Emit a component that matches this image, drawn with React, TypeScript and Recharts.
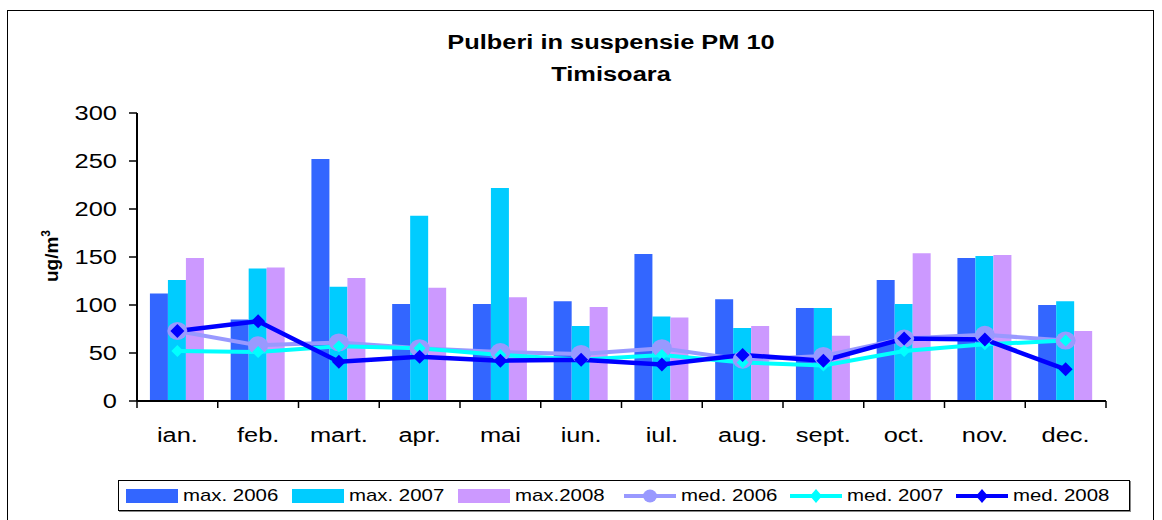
import React from "react";
import {
  ComposedChart,
  Bar,
  Line,
  XAxis,
  YAxis,
} from "recharts";

// PM10 monthly values for Timisoara (ug/m3)
const months = ["ian.", "feb.", "mart.", "apr.", "mai", "iun.", "iul.", "aug.", "sept.", "oct.", "nov.", "dec."];
const max2006 = [112, 85, 252, 101, 101, 104, 153, 106, 97, 126, 149, 100];
const max2007 = [126, 138, 119, 193, 222, 78, 88, 76, 97, 101, 151, 104];
const max2008 = [149, 139, 128, 118, 108, 98, 87, 78, 68, 154, 152, 73];
const med2006 = [73, 58, 61, 55, 51, 49, 55, 43, 47, 65, 69, 63];
const med2007 = [52, 51, 57, 55, 48, 43, 48, 40, 37, 52, 59, 63];
const med2008 = [73, 83, 41, 46, 42, 43, 38, 48, 42, 65, 64, 33];
const yTicks = [0, 50, 100, 150, 200, 250, 300];

const data = months.map((m, i) => ({
  m,
  max2006: max2006[i],
  max2007: max2007[i],
  max2008: max2008[i],
  med2006: med2006[i],
  med2007: med2007[i],
  med2008: med2008[i],
}));

const C_MAX06 = "#3366FF";
const C_MAX07 = "#00CCFF";
const C_MAX08 = "#CC99FF";
const C_MED06 = "#9999FF";
const C_MED07 = "#00FFFF";
const C_MED08 = "#0000FF";

const FONT = "'Liberation Sans', Arial, sans-serif";
const STRETCH = 1.27;

const CHART_W = 1144;
const CHART_H = 520;
const Y_W = 129;
const MARGIN = { top: 102, right: 46, bottom: 90, left: 0 };
const BAND = (CHART_W - Y_W - MARGIN.right) / months.length;

const MonthTick = (props: any) => {
  const { x, y, payload, index } = props;
  return (
    <g>
      <line x1={x - BAND / 2} y1={y} x2={x - BAND / 2} y2={y + 7} stroke="#000" strokeWidth={1.5} />
      {index === months.length - 1 && (
        <line x1={x + BAND / 2} y1={y} x2={x + BAND / 2} y2={y + 7} stroke="#000" strokeWidth={1.5} />
      )}
      <text
        transform={`translate(${x},${y + 34}) scale(${STRETCH},1)`}
        textAnchor="middle"
        dy="0.35em"
        fontSize={20}
        fontFamily={FONT}
        fill="#000"
      >
        {payload.value}
      </text>
    </g>
  );
};

const ValueTick = (props: any) => {
  const { x, y, payload } = props;
  return (
    <text
      transform={`translate(${x},${y}) scale(${STRETCH},1)`}
      textAnchor="end"
      dy="0.35em"
      fontSize={20}
      fontFamily={FONT}
      fill="#000"
    >
      {payload.value}
    </text>
  );
};

const circleDot = (props: any) => {
  const { cx, cy, key } = props;
  if (cx == null || cy == null) return <g key={key} />;
  return <ellipse key={key} cx={cx} cy={cy} rx={10} ry={9} fill={C_MED06} />;
};

const diamondDot = (color: string, s: number) => (props: any) => {
  const { cx, cy, key } = props;
  if (cx == null || cy == null) return <g key={key} />;
  return (
    <path
      key={key}
      d={`M${cx},${cy - s} L${cx + s},${cy} L${cx},${cy + s} L${cx - s},${cy} Z`}
      fill={color}
    />
  );
};

const legendItems = [
  { label: "max. 2006", color: C_MAX06, kind: "bar" },
  { label: "max. 2007", color: C_MAX07, kind: "bar" },
  { label: "max.2008", color: C_MAX08, kind: "bar" },
  { label: "med. 2006", color: C_MED06, kind: "circle" },
  { label: "med. 2007", color: C_MED07, kind: "diamond" },
  { label: "med. 2008", color: C_MED08, kind: "diamond" },
];

const LegendSymbol = ({ kind, color }: { kind: string; color: string }) => {
  if (kind === "bar") {
    return <div style={{ width: 52, height: 14, background: color }} />;
  }
  return (
    <svg width={52} height={16}>
      <line x1={0} y1={8} x2={52} y2={8} stroke={color} strokeWidth={4} />
      {kind === "circle" ? (
        <ellipse cx={26} cy={8} rx={7} ry={6.5} fill={color} />
      ) : (
        <path d="M26,1 L32,8 L26,15 L20,8 Z" fill={color} />
      )}
    </svg>
  );
};

export default function App() {
  return (
    <div
      style={{
        position: "absolute",
        left: 0,
        top: 0,
        width: 1162,
        height: 520,
        overflow: "hidden",
        background: "#fff",
        fontFamily: FONT,
      }}
    >
      <div
        style={{
          position: "absolute",
          left: 7,
          top: 10,
          width: 1145,
          height: 530,
          border: "1px solid #000",
        }}
      />
      <div
        style={{
          position: "absolute",
          left: 411,
          top: 26,
          width: 400,
          textAlign: "center",
          fontWeight: "bold",
          fontSize: 20,
          lineHeight: "32px",
          transform: `scaleX(${STRETCH})`,
        }}
      >
        Pulberi in suspensie PM 10
        <br />
        Timisoara
      </div>
      <div
        style={{
          position: "absolute",
          left: 51,
          top: 256,
          fontWeight: "bold",
          fontSize: 19,
          whiteSpace: "nowrap",
          transform: "translate(-50%, -50%) rotate(-90deg)",
        }}
      >
        ug/m<sup style={{ fontSize: 12 }}>3</sup>
      </div>
      <div style={{ position: "absolute", left: 8, top: 11 }}>
        <ComposedChart
          width={CHART_W}
          height={CHART_H}
          data={data}
          margin={MARGIN}
          barCategoryGap="16%"
          barGap={0}
        >
          <XAxis
            dataKey="m"
            interval={0}
            tickLine={false}
            tickSize={0}
            tickMargin={0}
            height={40}
            axisLine={{ stroke: "#000", strokeWidth: 2 }}
            tick={<MonthTick />}
          />
          <XAxis
            xAxisId="top"
            dataKey="m"
            orientation="top"
            height={0}
            tick={false}
            tickLine={false}
            axisLine={{ stroke: "#000", strokeWidth: 2 }}
          />
          <YAxis
            domain={[0, 300]}
            ticks={yTicks}
            width={Y_W}
            tickSize={8}
            tickMargin={12}
            tickLine={{ stroke: "#000", strokeWidth: 1.5 }}
            axisLine={{ stroke: "#000", strokeWidth: 2 }}
            tick={<ValueTick />}
          />
          <YAxis
            yAxisId="right"
            orientation="right"
            domain={[0, 300]}
            width={0}
            tick={false}
            tickLine={false}
            axisLine={{ stroke: "#000", strokeWidth: 2 }}
          />
          <Bar dataKey="max2006" name="max. 2006" fill={C_MAX06} isAnimationActive={false} />
          <Bar dataKey="max2007" name="max. 2007" fill={C_MAX07} isAnimationActive={false} />
          <Bar dataKey="max2008" name="max.2008" fill={C_MAX08} isAnimationActive={false} />
          <Line
            dataKey="med2006"
            name="med. 2006"
            stroke={C_MED06}
            strokeWidth={4}
            dot={circleDot}
            activeDot={false}
            isAnimationActive={false}
          />
          <Line
            dataKey="med2007"
            name="med. 2007"
            stroke={C_MED07}
            strokeWidth={4}
            dot={diamondDot(C_MED07, 6)}
            activeDot={false}
            isAnimationActive={false}
          />
          <Line
            dataKey="med2008"
            name="med. 2008"
            stroke={C_MED08}
            strokeWidth={4.5}
            dot={diamondDot(C_MED08, 7)}
            activeDot={false}
            isAnimationActive={false}
          />
        </ComposedChart>
      </div>
      <div
        style={{
          position: "absolute",
          left: 118,
          top: 480,
          width: 1003,
          height: 29,
          border: "1px solid #000",
          boxShadow: "1px 1px 0 #888",
          display: "flex",
          alignItems: "center",
          paddingLeft: 7,
          boxSizing: "content-box",
        }}
      >
        {legendItems.map((it) => (
          <div key={it.label} style={{ width: 166, display: "flex", alignItems: "center" }}>
            <LegendSymbol kind={it.kind} color={it.color} />
            <span
              style={{
                marginLeft: 5,
                fontSize: 17,
                display: "inline-block",
                transform: "scaleX(1.2)",
                transformOrigin: "left center",
                whiteSpace: "nowrap",
              }}
            >
              {it.label}
            </span>
          </div>
        ))}
      </div>
    </div>
  );
}
